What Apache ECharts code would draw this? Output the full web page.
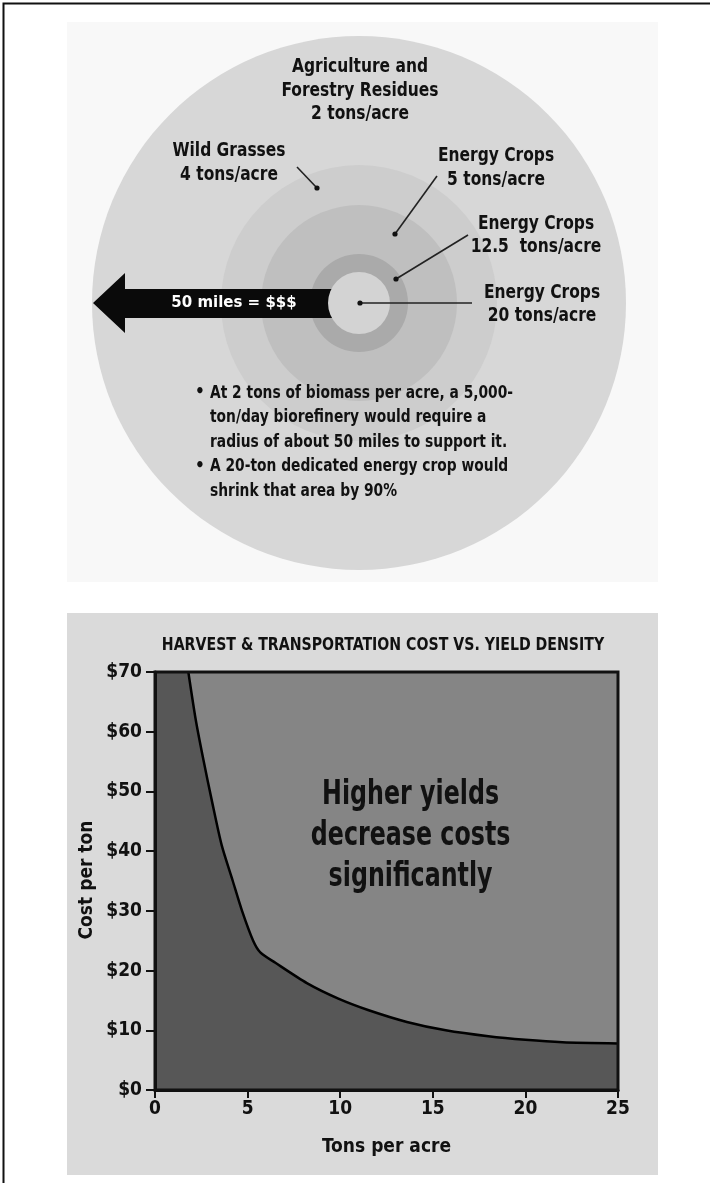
<!DOCTYPE html>
<html>
<head>
<meta charset="utf-8">
<script src="https://cdn.jsdelivr.net/npm/echarts@6/dist/echarts.min.js"></script>
<style>
html,body{margin:0;padding:0;background:#fff;}
#c{width:710px;height:1183px;}
</style>
</head>
<body>
<div id="c"></div>
<script>
// ---------- data ----------
var ringNames = ['Agriculture and Forestry Residues', 'Wild Grasses', 'Energy Crops', 'Energy Crops', 'Energy Crops'];
var ringYields = [2, 4, 5, 12.5, 20];            // tons/acre
var bulletLines = [
  ['At 2 tons of biomass per acre, a 5,000-', 'ton/day biorefinery would require a', 'radius of about 50 miles to support it.'],
  ['A 20-ton dedicated energy crop would', 'shrink that area by 90%']
];
var arrowText = '50 miles = $$$';

var chartTitle = 'HARVEST & TRANSPORTATION COST VS. YIELD DENSITY';
var tons = [1.8, 2.2, 2.6, 3.1, 3.6, 4.2, 4.7, 5.3, 5.7, 6.5, 8.2, 9.9, 11.5, 13.6, 15.7, 18, 20, 22, 25];
var cost = [70, 62, 55.5, 48, 41, 35, 30, 25, 23, 21.3, 17.9, 15.3, 13.4, 11.4, 10, 9, 8.4, 8, 7.8];
var xTicks = [0, 5, 10, 15, 20, 25];
var yTickLabels = ['$0', '$10', '$20', '$30', '$40', '$50', '$60', '$70'];
var xName = 'Tons per acre';
var yName = 'Cost per ton';
var note = ['Higher yields', 'decrease costs', 'significantly'];

// ---------- styles ----------
var F = "'Liberation Sans Narrow', 'DejaVu Sans Condensed', 'Noto Sans', sans-serif";
var CX = 359, CY = 303;
var ringRadius = [267, 138, 98, 49, 31];
var ringColors = ['#d7d7d7', '#cdcdcd', '#bfbfbf', '#aaaaaa', '#d3d3d3'];

var chart = echarts.init(document.getElementById('c'), null, {renderer: 'canvas'});

var series = [];
for (var i = 0; i < ringYields.length; i++) {
  series.push({
    type: 'pie', silent: true, z: (i === 4 ? 6 : 2 + i * 0.1),
    center: [CX, CY], radius: [0, ringRadius[i]],
    label: {show: false}, labelLine: {show: false},
    itemStyle: {color: ringColors[i]},
    animation: false,
    data: [{name: ringNames[i], value: ringYields[i]}]
  });
}
series.push({
  type: 'line', xAxisIndex: 0, yAxisIndex: 0,
  data: tons.map(function (t, k) { return [t, cost[k]]; }),
  smooth: 0.25, showSymbol: false, clip: true,
  lineStyle: {color: '#000', width: 2.5},
  areaStyle: {color: '#858585', opacity: 1, origin: 'end'},
  animation: false, z: 3
});

function txt(x, y, s, size, align, sx) {
  return {type: 'text', x: x, y: y, z: 20, silent: true, scaleX: sx || 1,
    style: {text: s, font: 'bold ' + size + 'px ' + F, fill: '#111', textAlign: align || 'center', textVerticalAlign: 'middle'}};
}
function leader(x1, y1, x2, y2) {
  return [
    {type: 'line', z: 20, silent: true, shape: {x1: x1, y1: y1, x2: x2, y2: y2}, style: {stroke: '#222', lineWidth: 1.6}},
    {type: 'circle', z: 20, silent: true, shape: {cx: x2, cy: y2, r: 2.6}, style: {fill: '#111'}}
  ];
}

var g = [];
// frame and panels
g.push({type: 'rect', z: -5, silent: true, shape: {x: 3.5, y: 3.5, width: 760, height: 1250}, style: {fill: '#fff', stroke: '#111', lineWidth: 2}});
g.push({type: 'rect', z: -4, silent: true, shape: {x: 67, y: 22, width: 591, height: 560}, style: {fill: '#f8f8f8'}});
g.push({type: 'rect', z: -4, silent: true, shape: {x: 67, y: 613, width: 591, height: 562}, style: {fill: '#dadada'}});

// arrow
g.push({type: 'polygon', z: 4, silent: true, shape: {points: [[93, 303], [125, 273], [125, 289], [345, 289], [345, 318], [125, 318], [125, 333]]}, style: {fill: '#0a0a0a'}});
g.push({type: 'text', x: 234, y: 303, z: 5, silent: true, style: {text: arrowText, font: 'bold 15px "DejaVu Sans", sans-serif', fill: '#fff', textAlign: 'center', textVerticalAlign: 'middle'}});

// ring labels
var LS = 20, LX = 0.86;
g.push(txt(360, 67, 'Agriculture and', LS, 'center', LX));
g.push(txt(360, 91, 'Forestry Residues', LS, 'center', LX));
g.push(txt(360, 114, ringYields[0] + ' tons/acre', LS, 'center', LX));
g.push(txt(229, 151, ringNames[1], LS, 'center', LX));
g.push(txt(229, 175, ringYields[1] + ' tons/acre', LS, 'center', LX));
g.push(txt(496, 156, ringNames[2], LS, 'center', LX));
g.push(txt(496, 180, ringYields[2] + ' tons/acre', LS, 'center', LX));
g.push(txt(536, 224, ringNames[3], LS, 'center', LX));
g.push(txt(536, 247, ringYields[3] + '  tons/acre', LS, 'center', LX));
g.push(txt(542, 293, ringNames[4], LS, 'center', LX));
g.push(txt(542, 316, ringYields[4] + ' tons/acre', LS, 'center', LX));
g = g.concat(leader(297, 167, 317, 188));
g = g.concat(leader(437, 176, 395, 234));
g = g.concat(leader(468, 235, 396, 279));
g = g.concat(leader(472, 303, 360, 303));

// bullets
var by = 393, lh = 24.5;
bulletLines.forEach(function (lines) {
  g.push(txt(200, by, '•', 17, 'center'));
  lines.forEach(function (l) {
    g.push(txt(210, by, l, 18.5, 'left', 0.83));
    by += lh;
  });
});

// lower chart texts
g.push(txt(383, 645, chartTitle, 18.5, 'center', 0.85));
g.push({type: 'text', x: 87, y: 880, rotation: Math.PI / 2, z: 20, silent: true, scaleX: 1,
  style: {text: yName, font: 'bold 19px ' + F, fill: '#111', textAlign: 'center', textVerticalAlign: 'middle'}});

var option = {
  animation: false,
  grid: {left: 155, right: 92, top: 672, bottom: 93, show: true, backgroundColor: '#575757', borderColor: '#111', borderWidth: 0},
  xAxis: {
    type: 'value', min: 0, max: 25, interval: 5,
    name: xName, nameLocation: 'middle', nameGap: 48,
    nameTextStyle: {fontFamily: F, fontWeight: 'bold', fontSize: 19, color: '#111'},
    axisLine: {show: true, lineStyle: {color: '#111', width: 3}},
    axisTick: {show: true, length: 8, lineStyle: {color: '#111', width: 2}},
    axisLabel: {fontFamily: F, fontWeight: 'bold', fontSize: 19, color: '#111', margin: 10,
      formatter: function (v) { return xTicks.indexOf(v) >= 0 ? String(v) : ''; }},
    splitLine: {show: false}
  },
  yAxis: {
    type: 'value', min: 0, max: 70, interval: 10,
    axisLine: {show: true, lineStyle: {color: '#111', width: 3}},
    axisTick: {show: true, length: 9, lineStyle: {color: '#111', width: 2}},
    axisLabel: {fontFamily: F, fontWeight: 'bold', fontSize: 19, color: '#111', margin: 13,
      formatter: function (v) { return yTickLabels[Math.round(v / 10)]; }},
    splitLine: {show: false}
  },
  series: series,
  graphic: {elements: g}
};
chart.setOption(option);

// big note inside the plot and the plot frame, positioned through the axes
var p = chart.convertToPixel({gridIndex: 0}, [13.8, 42.5]);
var tl = chart.convertToPixel({gridIndex: 0}, [0, 70]);
var br = chart.convertToPixel({gridIndex: 0}, [25, 0]);
chart.setOption({graphic: {elements: g.concat([
  {type: 'rect', z: 30, silent: true, shape: {x: tl[0], y: tl[1], width: br[0] - tl[0], height: br[1] - tl[1]},
    style: {fill: null, stroke: '#111', lineWidth: 3}},
  txt(p[0], p[1] - 41, note[0], 33, 'center', 0.8),
  txt(p[0], p[1], note[1], 33, 'center', 0.8),
  txt(p[0], p[1] + 41, note[2], 33, 'center', 0.8)
])}});
</script>
</body>
</html>
